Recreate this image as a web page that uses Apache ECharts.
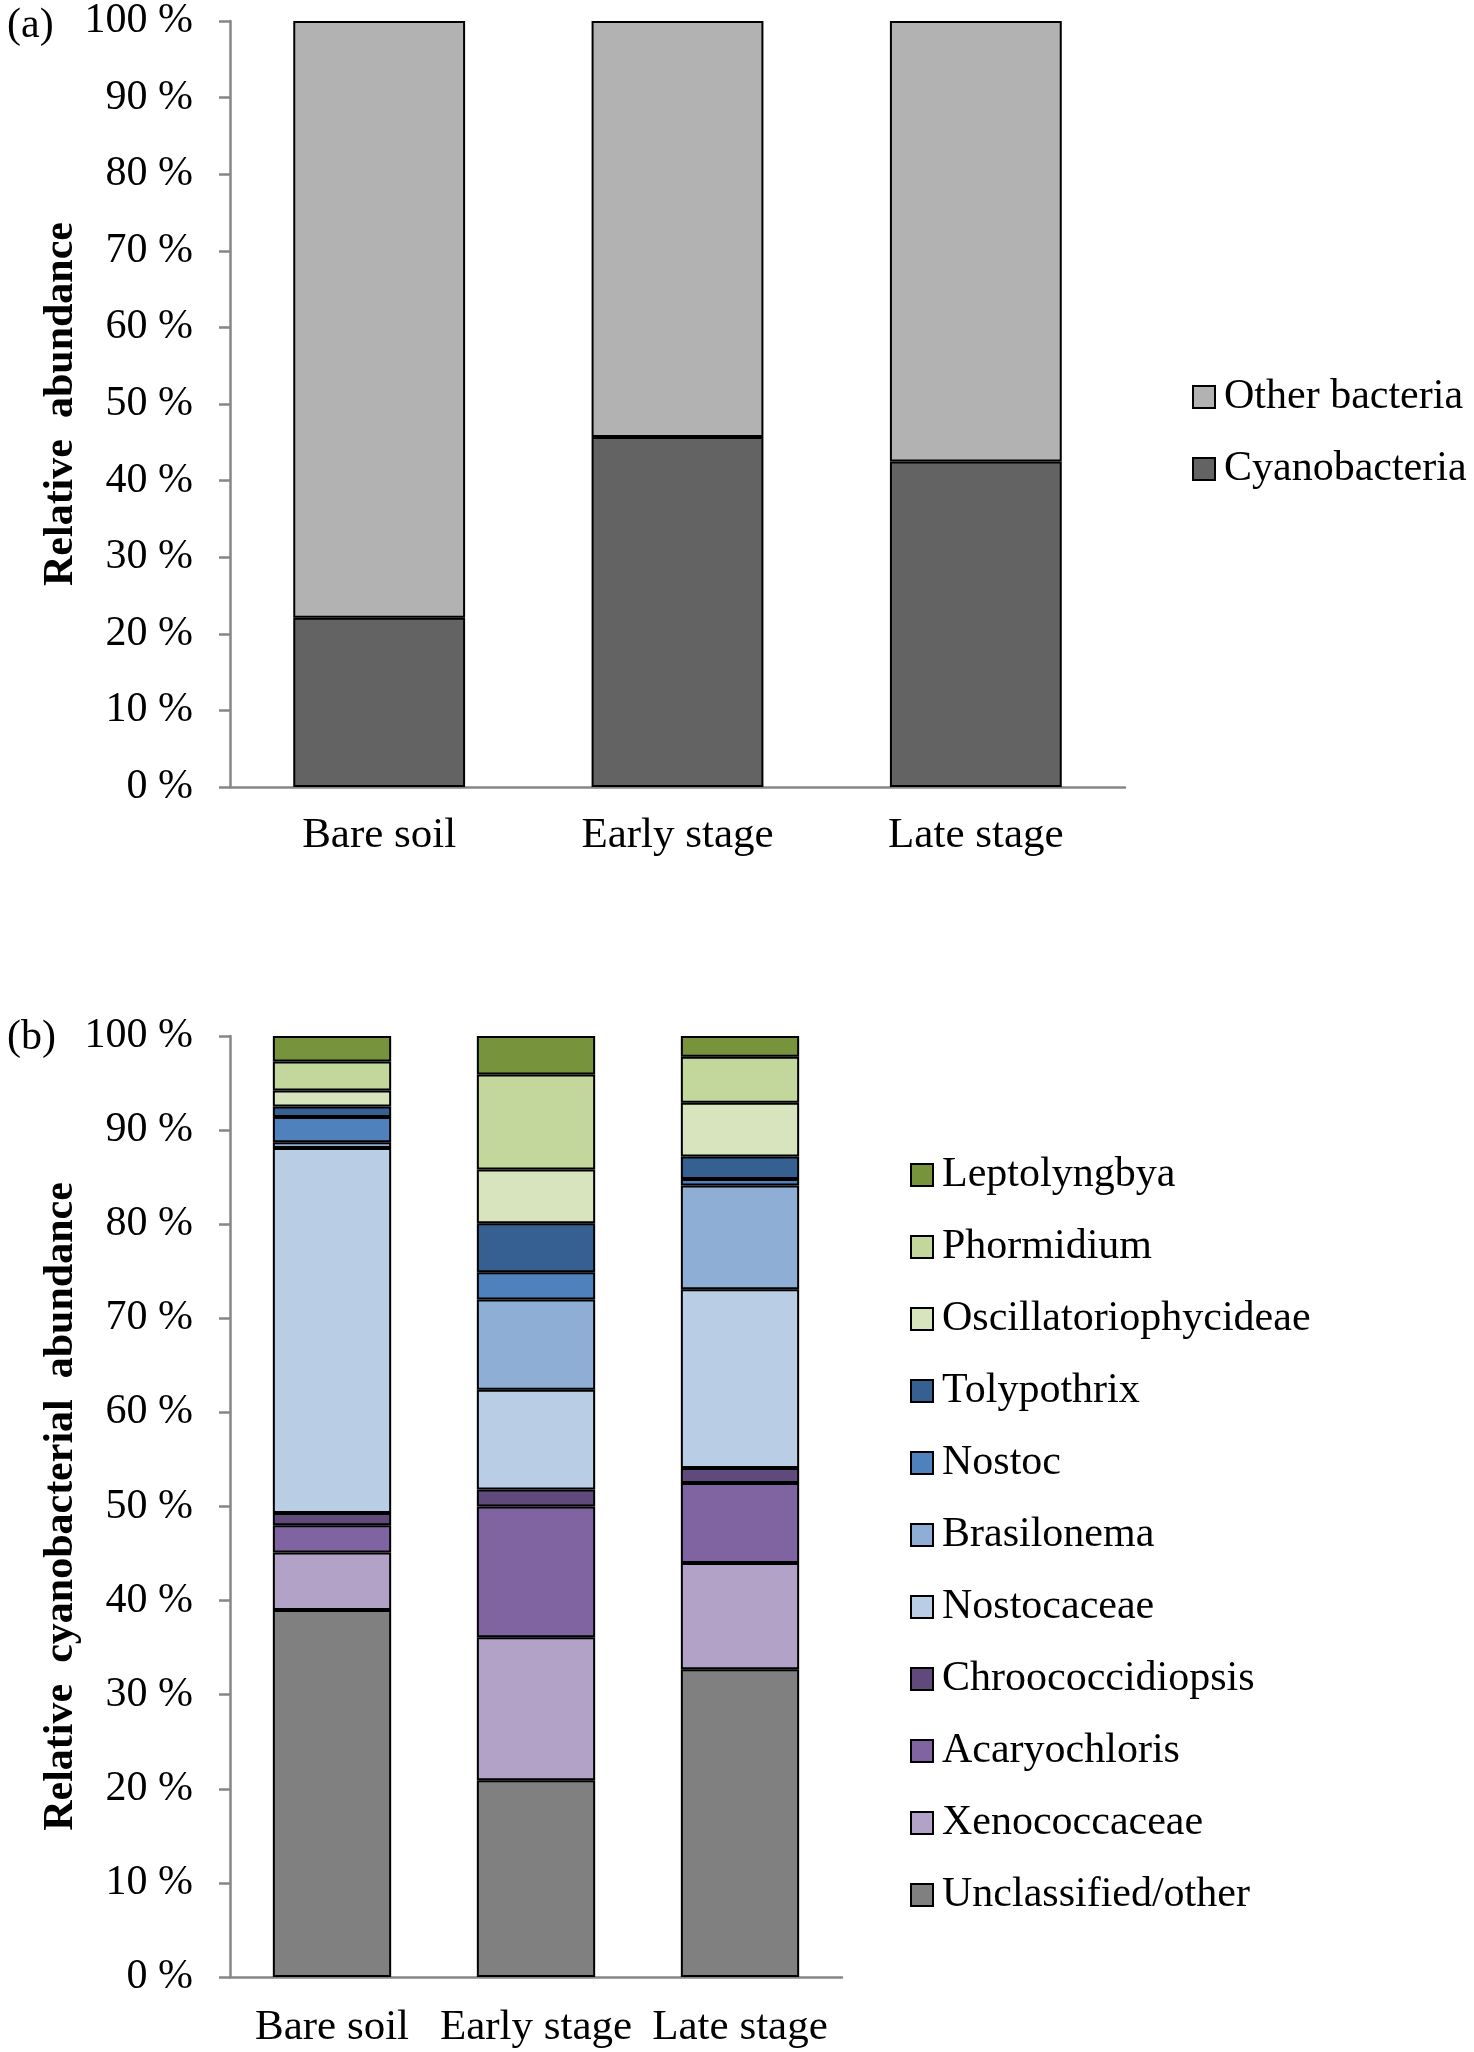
<!DOCTYPE html>
<html><head><meta charset="utf-8">
<script src="https://cdn.jsdelivr.net/npm/echarts@6/dist/echarts.min.js"></script>
<style>html,body{margin:0;padding:0;background:#fff}#c{width:1474px;height:2052px}</style>
</head><body><div id="c"></div>
<script>
// ---- data ----
const categories = ['Bare soil', 'Early stage', 'Late stage'];
const yTickValues = [0, 10, 20, 30, 40, 50, 60, 70, 80, 90, 100];

// panel (a)
const cyanobacteria = [22.1, 45.7, 42.5];
const otherBacteria = [77.9, 54.3, 57.5];

// panel (b)  (bottom to top)
const unclassified = [39.0, 20.9, 32.7];
const xenococcaceae = [6.1, 15.2, 11.3];
const acaryochloris = [2.9, 13.9, 8.5];
const chroococcidiopsis = [1.3, 1.8, 1.6];
const nostocaceae = [38.8, 10.6, 19.0];
const brasilonema = [0.6, 9.6, 11.0];
const nostoc = [2.7, 2.9, 0.7];
const tolypothrix = [1.1, 5.2, 2.4];
const oscillatoriophycideae = [1.7, 5.7, 5.7];
const phormidium = [3.1, 10.1, 4.9];
const leptolyngbya = [2.7, 4.1, 2.2];

const seriesNamesA = ['Cyanobacteria', 'Other bacteria'];
const seriesNamesB = ['Unclassified/other', 'Xenococcaceae', 'Acaryochloris', 'Chroococcidiopsis',
  'Nostocaceae', 'Brasilonema', 'Nostoc', 'Tolypothrix', 'Oscillatoriophycideae', 'Phormidium', 'Leptolyngbya'];
const seriesDataB = [unclassified, xenococcaceae, acaryochloris, chroococcidiopsis, nostocaceae,
  brasilonema, nostoc, tolypothrix, oscillatoriophycideae, phormidium, leptolyngbya];

// ---- styles ----
const colorsA = ['#636363', '#B2B2B2'];
const colorsB = ['#808080', '#B3A2C7', '#8064A2', '#604A7B', '#B9CDE5', '#8EAED6',
  '#4F81BD', '#376092', '#D7E4BD', '#C3D69B', '#77933C'];
const FONT = '"Liberation Serif", "Times New Roman", serif';
const axisGray = '#868686';

function yAxisCfg(gridIndex, name, gap) {
  return {
    type: 'value', gridIndex, min: 0, max: 100, interval: 10,
    name, nameLocation: 'middle', nameGap: gap, nameRotate: 90, nameMoveOverlap: false,
    nameTextStyle: { fontFamily: FONT, fontSize: 42, fontWeight: 'bold', color: '#000' },
    axisLine: { show: true, lineStyle: { color: axisGray, width: 2.5 } },
    axisTick: { show: true, length: 11, lineStyle: { color: axisGray, width: 2.5 } },
    axisLabel: { margin: 37, fontFamily: FONT, fontSize: 42, color: '#000', formatter: '{value} %' },
    splitLine: { show: false }
  };
}
function xAxisCfg(gridIndex, margin) {
  return {
    type: 'category', gridIndex, data: categories,
    axisLine: { show: true, lineStyle: { color: axisGray, width: 2.5 } },
    axisTick: { show: false },
    axisLabel: { margin, fontFamily: FONT, fontSize: 43, color: '#000', interval: 0 }
  };
}

const series = [];
seriesNamesA.forEach((n, i) => series.push({
  name: n, type: 'bar', stack: 'a', xAxisIndex: 0, yAxisIndex: 0,
  data: [cyanobacteria, otherBacteria][i], barWidth: '57.6%',
  itemStyle: { color: colorsA[i], borderColor: '#000', borderWidth: 2 },
  emphasis: { disabled: true }
}));
seriesNamesB.forEach((n, i) => series.push({
  name: n, type: 'bar', stack: 'b', xAxisIndex: 1, yAxisIndex: 1,
  data: seriesDataB[i], barWidth: '58%',
  itemStyle: { color: colorsB[i], borderColor: '#000', borderWidth: 2 },
  emphasis: { disabled: true }
}));

const legendText = { fontFamily: FONT, fontSize: 42, color: '#000', lineHeight: 42, padding: [0, 0, 0, 4] };

const chart = echarts.init(document.getElementById('c'), null, { renderer: 'canvas' });
chart.setOption({
  animation: false,
  backgroundColor: '#fff',
  grid: [
    { left: 230, top: 15, width: 895, height: 772 },
    { left: 230, top: 1036, width: 612, height: 941 }
  ],
  xAxis: [xAxisCfg(0, 27), xAxisCfg(1, 29)],
  yAxis: [yAxisCfg(0, 'Relative  abundance', 148), yAxisCfg(1, 'Relative  cyanobacterial  abundance', 148)],
  legend: [
    { orient: 'vertical', left: 1187, top: 371, itemWidth: 22, itemHeight: 22, itemGap: 30,
      icon: 'rect', data: seriesNamesA.slice().reverse(), textStyle: legendText,
      itemStyle: { borderColor: '#000', borderWidth: 2 }, selectedMode: false },
    { orient: 'vertical', left: 905, top: 1149, itemWidth: 22, itemHeight: 22, itemGap: 30,
      icon: 'rect', data: seriesNamesB.slice().reverse(), textStyle: legendText,
      itemStyle: { borderColor: '#000', borderWidth: 2 }, selectedMode: false }
  ],
  graphic: [
    { type: 'text', left: 7, top: 5, style: { text: '(a)', font: '42px ' + FONT, fill: '#000' } },
    { type: 'text', left: 7, top: 1017, style: { text: '(b)', font: '42px ' + FONT, fill: '#000' } }
  ],
  series
});
</script></body></html>
